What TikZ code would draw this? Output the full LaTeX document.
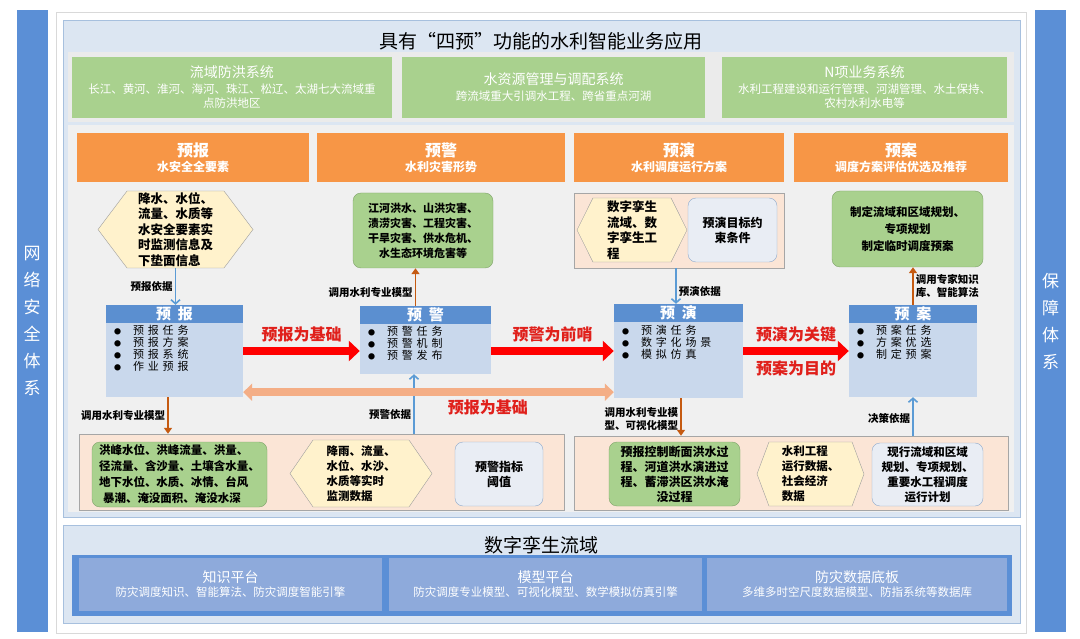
\documentclass[tikz,border=0pt]{standalone}
\usepackage{fontspec}
\setmainfont{Noto Sans CJK SC}
\newfontfamily\spreadfont[LetterSpace=35]{Noto Sans CJK SC}
\newfontfamily\headfont[LetterSpace=45]{Noto Sans CJK SC}
\usetikzlibrary{arrows.meta, positioning, calc, shapes.symbols}
\definecolor{barblue}{HTML}{5B8FD6}
\definecolor{panelblue}{HTML}{DCE6F2}
\definecolor{panelline}{HTML}{A7C0DE}
\definecolor{bandgrey}{HTML}{EBEBEB}
\definecolor{innergrey}{HTML}{F0F0F0}
\definecolor{sysgreen}{HTML}{A9D18E}
\definecolor{greenline}{HTML}{7FA36A}
\definecolor{phaseorange}{HTML}{F79646}
\definecolor{hexfill}{HTML}{FFF2CC}
\definecolor{hexline}{HTML}{9E9E9E}
\definecolor{holderfill}{HTML}{FBE5D6}
\definecolor{holderline}{HTML}{A6A6A6}
\definecolor{greyfill}{HTML}{E9EDF4}
\definecolor{greyline}{HTML}{8FAACC}
\definecolor{headblue}{HTML}{5B8FD0}
\definecolor{bodyblue}{HTML}{C9D8EC}
\definecolor{keyred}{HTML}{FF0000}
\definecolor{textred}{HTML}{E0201B}
\definecolor{softsalmon}{HTML}{F4AE86}
\definecolor{arrowblue}{HTML}{5B9BD5}
\definecolor{arroworange}{HTML}{C55A11}
\definecolor{platblue}{HTML}{8EAADB}
\definecolor{frameline}{HTML}{D9D9D9}
\newcommand{\itm}{\makebox[19pt][l]{\fontsize{7}{7}\selectfont ●}}

\begin{document}
\begin{tikzpicture}[
  x=1pt, y=-1pt,
  sidebar/.style={fill=barblue, text=white, minimum width=31pt, minimum height=622pt, inner sep=0pt, align=center, font=\fontsize{17}{27}\selectfont},
  panel/.style={fill=panelblue, draw=panelline, line width=0.8pt, inner sep=0pt},
  sysbox/.style={fill=sysgreen, text=white, minimum height=61pt, inner sep=0pt, align=center, font=\fontsize{11.5}{14}\selectfont},
  phase/.style={fill=phaseorange, text=white, minimum height=49pt, inner sep=0pt, align=center, font=\fontsize{12}{15}\selectfont\bfseries},
  hexa/.style={shape=signal, signal to=west and east, fill=hexfill, draw=hexline, inner sep=0pt, align=left, font=\fontsize{12.5}{15.5}\selectfont\bfseries},
  greenbox/.style={rounded corners=8pt, fill=sysgreen, draw=greenline, inner sep=0pt, align=center, font=\fontsize{11}{15}\selectfont\bfseries},
  greybox/.style={rounded corners=8pt, fill=greyfill, draw=greyline, inner sep=0pt, align=center, font=\fontsize{12}{15}\selectfont\bfseries},
  holder/.style={fill=holderfill, draw=holderline, inner sep=0pt},
  taskbody/.style={fill=bodyblue, inner sep=0pt},
  taskhead/.style={fill=headblue, text=white, minimum height=18pt, inner sep=0pt, anchor=north, font=\headfont\bfseries\fontsize{15}{15}\selectfont},
  tasklist/.style={anchor=north west, align=left, inner sep=0pt, font=\spreadfont\fontsize{11}{12}\selectfont},
  keyarrow/.style={draw=keyred, line width=8pt, -{Triangle[length=11pt,width=20pt]}},
  softarrow/.style={draw=softsalmon, line width=8pt, {Triangle[length=9pt,width=17pt]}-{Triangle[length=9pt,width=17pt]}},
  keylabel/.style={text=textred, inner sep=1pt, font=\fontsize{16}{18}\selectfont\bfseries},
  bluearrow/.style={draw=arrowblue, line width=1.6pt, -{Straight Barb[length=4pt,width=9pt]}},
  orangearrow/.style={draw=arroworange, line width=1.6pt, -{Triangle[length=6pt,width=8pt]}},
  smalllabel/.style={inner sep=2pt, align=left, font=\fontsize{10.5}{13}\selectfont\bfseries},
  platform/.style={fill=platblue, text=white, minimum height=53pt, inner sep=0pt, align=center, font=\fontsize{11.5}{14}\selectfont}
]
\useasboundingbox (0,0) rectangle (1080,639);

% side bars and frame
\node[sidebar] (netbar) at (32,321) {网\\络\\安\\全\\体\\系};
\node[sidebar] (guardbar) at (1050.5,321) {保\\障\\体\\系};
\node[fill=white, draw=frameline, minimum width=970pt, minimum height=621pt] (frame) at (541,322.5) {};

% upper panel
\node[panel, minimum width=957pt, minimum height=497pt] (apppanel) at (541.5,268.5) {};
\node[font=\fontsize{19}{22}\selectfont] (apptitle) at (541,41) {具有“四预”功能的水利智能业务应用};
\node[fill=bandgrey, minimum width=946pt, minimum height=70pt] (sysband) at (541,87) {};
\node[sysbox, minimum width=320pt] (flood) at (232,87.5) {{\fontsize{14}{17}\selectfont 流域防洪系统}\\[2pt]长江、黄河、淮河、海河、珠江、松辽、太湖七大流域重\\点防洪地区};
\node[sysbox, minimum width=303pt] (water) at (553.5,87.5) {{\fontsize{14}{17}\selectfont 水资源管理与调配系统}\\[2pt]跨流域重大引调水工程、跨省重点河湖};
\node[sysbox, minimum width=285pt] (nbiz) at (864.5,87.5) {{\fontsize{14}{17}\selectfont N项业务系统}\\[2pt]水利工程建设和运行管理、河湖管理、水土保持、\\农村水利水电等};

\node[fill=innergrey, minimum width=946pt, minimum height=387pt] (fourpanel) at (541,318.5) {};

% four phases
\node[phase, minimum width=232pt] (fcphase) at (193,157.5) {{\fontsize{16}{19}\selectfont 预报}\\水安全全要素};
\node[phase, minimum width=248pt] (wnphase) at (441,157.5) {{\fontsize{16}{19}\selectfont 预警}\\水利灾害形势};
\node[phase, minimum width=210pt] (rhphase) at (679,157.5) {{\fontsize{16}{19}\selectfont 预演}\\水利调度运行方案};
\node[phase, minimum width=214pt] (plphase) at (901,157.5) {{\fontsize{16}{19}\selectfont 预案}\\调度方案评估优选及推荐};

% inputs above the tasks
\node[hexa, minimum width=155pt, minimum height=77pt, signal pointer angle=106] (fcsrc) at (175.5,229.5) {降水、水位、\\流量、水质等\\水安全要素实\\时监测信息及\\下垫面信息};
\node[greenbox, minimum width=140pt, minimum height=75pt] (wnsrc) at (423,230.5) {江河洪水、山洪灾害、\\渍涝灾害、工程灾害、\\干旱灾害、供水危机、\\水生态环境危害等};
\node[holder, minimum width=210pt, minimum height=75pt] (rhsrc) at (679,230.5) {};
\node[hexa, minimum width=110pt, minimum height=64pt, signal pointer angle=127] (rhhex) at (632,230) {数字孪生\\流域、数\\字孪生工\\程};
\node[greybox, minimum width=89pt, minimum height=64pt] (rhgoal) at (732.5,230) {预演目标约\\束条件};
\node[greenbox, minimum width=151pt, minimum height=76pt, font=\fontsize{11.5}{17}\selectfont\bfseries] (plsrc) at (907.5,229) {制定流域和区域规划、\\专项规划\\制定临时调度预案};

% task boxes
\node[taskbody, minimum width=137pt, minimum height=92pt] (fcbody) at (174.5,351) {};
\node[taskhead, minimum width=137pt] (fchead) at (fcbody.north) {预报};
\node[tasklist] (fclist) at ([xshift=8pt,yshift=-20pt]fcbody.north west) {\itm 预报任务\\\itm 预报方案\\\itm 预报系统\\\itm 作业预报};

\node[taskbody, minimum width=131pt, minimum height=68pt] (wnbody) at (425.5,340) {};
\node[taskhead, minimum width=131pt] (wnhead) at (wnbody.north) {预警};
\node[tasklist] (wnlist) at ([xshift=8pt,yshift=-20pt]wnbody.north west) {\itm 预警任务\\\itm 预警机制\\\itm 预警发布};

\node[taskbody, minimum width=129pt, minimum height=94pt] (rhbody) at (678.5,351) {};
\node[taskhead, minimum width=129pt] (rhhead) at (rhbody.north) {预演};
\node[tasklist] (rhlist) at ([xshift=8pt,yshift=-21pt]rhbody.north west) {\itm 预演任务\\\itm 数字化场景\\\itm 模拟仿真};

\node[taskbody, minimum width=128pt, minimum height=92pt] (plbody) at (913,351) {};
\node[taskhead, minimum width=128pt] (plhead) at (plbody.north) {预案};
\node[tasklist] (pllist) at ([xshift=8pt,yshift=-20pt]plbody.north west) {\itm 预案任务\\\itm 方案优选\\\itm 制定预案};

% inputs below the tasks
\node[holder, minimum width=485pt, minimum height=76pt] (fcsink) at (321.5,472) {};
\node[greenbox, minimum width=175pt, minimum height=65pt, align=left, font=\fontsize{11.5}{16}\selectfont\bfseries] (fcmodel) at (179.5,474.5) {洪峰水位、洪峰流量、洪量、\\径流量、含沙量、土壤含水量、\\地下水位、水质、冰情、台风\\\hspace{4pt}暴潮、淹没面积、淹没水深};
\node[hexa, minimum width=142pt, minimum height=67pt, signal pointer angle=111, font=\fontsize{11.5}{15}\selectfont\bfseries] (fcdata) at (361,473.5) {降雨、流量、\\水位、水沙、\\水质等实时\\监测数据};
\node[greybox, minimum width=88pt, minimum height=64pt] (fclimit) at (499,474) {预警指标\\阈值};

\node[holder, minimum width=434pt, minimum height=74pt] (rhsink) at (791,473) {};
\node[greenbox, minimum width=131pt, minimum height=64pt, font=\fontsize{12}{15}\selectfont\bfseries] (rhmodel) at (674.5,474) {预报控制断面洪水过\\程、河道洪水演进过\\程、蓄滞洪区洪水淹\\没过程};
\node[hexa, minimum width=107pt, minimum height=64pt, signal pointer angle=139, font=\fontsize{11.5}{15}\selectfont\bfseries] (rhdata) at (810.5,474) {水利工程\\运行数据、\\社会经济\\数据};
\node[greybox, minimum width=111pt, minimum height=63pt, font=\fontsize{11.5}{15}\selectfont\bfseries] (rhplan) at (927.5,474.5) {现行流域和区域\\规划、专项规划、\\重要水工程调度\\运行计划};

% connectors
\draw[bluearrow] (fcsrc.south) -- (fcsrc.south |- fchead.north) node[midway, left, smalllabel] {预报依据};
\draw[orangearrow] ([xshift=-10pt]wnhead.north) -- ([xshift=-10pt]wnhead.north |- wnsrc.south) node[pos=0.35, left, smalllabel] {调用水利专业模型};
\draw[bluearrow] ([xshift=-3pt]rhsrc.south) -- ([xshift=-3pt]rhsrc.south |- rhhead.north) node[pos=0.65, right, smalllabel] {预演依据};
\draw[orangearrow] (plhead.north) -- (plhead.north |- plsrc.south) node[midway, right, smalllabel] {调用专家知识\\库、智能算法};
\draw[orangearrow] ([xshift=-6.5pt]fcbody.south) -- ([xshift=-6.5pt]fcbody.south |- fcsink.north) node[midway, left, smalllabel] {调用水利专业模型};
\draw[bluearrow] ([xshift=-11.5pt]wnbody.south |- fcsink.north) -- ([xshift=-11.5pt]wnbody.south) node[pos=0.32, left, smalllabel] {预警依据};
\draw[orangearrow] ([xshift=2.5pt]rhbody.south) -- ([xshift=2.5pt]rhbody.south |- rhsink.north) node[pos=0.55, left, smalllabel] {调用水利专业模\\型、可视化模型};
\draw[bluearrow] (plbody.south |- rhsink.north) -- (plbody.south) node[pos=0.45, left, smalllabel] {决策依据};

\draw[keyarrow] (fcbody.east) -- (fcbody.east -| wnbody.west) node[midway, above=4pt, keylabel] {预报为基础};
\draw[keyarrow] (rhbody.west -| wnbody.east) -- (rhbody.west) node[midway, above=4pt, keylabel] {预警为前哨};
\draw[keyarrow] (rhbody.east) -- (rhbody.east -| plbody.west) node[midway, above=4pt, keylabel] {预演为关键} node[midway, below=5pt, keylabel] {预案为目的};
\draw[softarrow] ([yshift=5pt]fcbody.south east) -- ([yshift=5pt]fcbody.south east -| rhbody.west) node[pos=0.66, below=3pt, keylabel] {预报为基础};

% lower panel
\node[panel, minimum width=957pt, minimum height=98pt] (twinpanel) at (541.5,574) {};
\node[font=\fontsize{19}{22}\selectfont] (twintitle) at (541,545) {数字孪生流域};
\node[fill=barblue, minimum width=940pt, minimum height=61pt] (twinband) at (542,585.5) {};
\node[platform, minimum width=303pt] (knowplat) at (230.5,584.5) {{\fontsize{14}{17}\selectfont 知识平台}\\防灾调度知识、智能算法、防灾调度智能引擎};
\node[platform, minimum width=313pt] (modelplat) at (545.5,584.5) {{\fontsize{14}{17}\selectfont 模型平台}\\防灾调度专业模型、可视化模型、数学模拟仿真引擎};
\node[platform, minimum width=300pt] (dataplat) at (857,584.5) {{\fontsize{14}{17}\selectfont 防灾数据底板}\\多维多时空尺度数据模型、防指系统等数据库};
\end{tikzpicture}
\end{document}
